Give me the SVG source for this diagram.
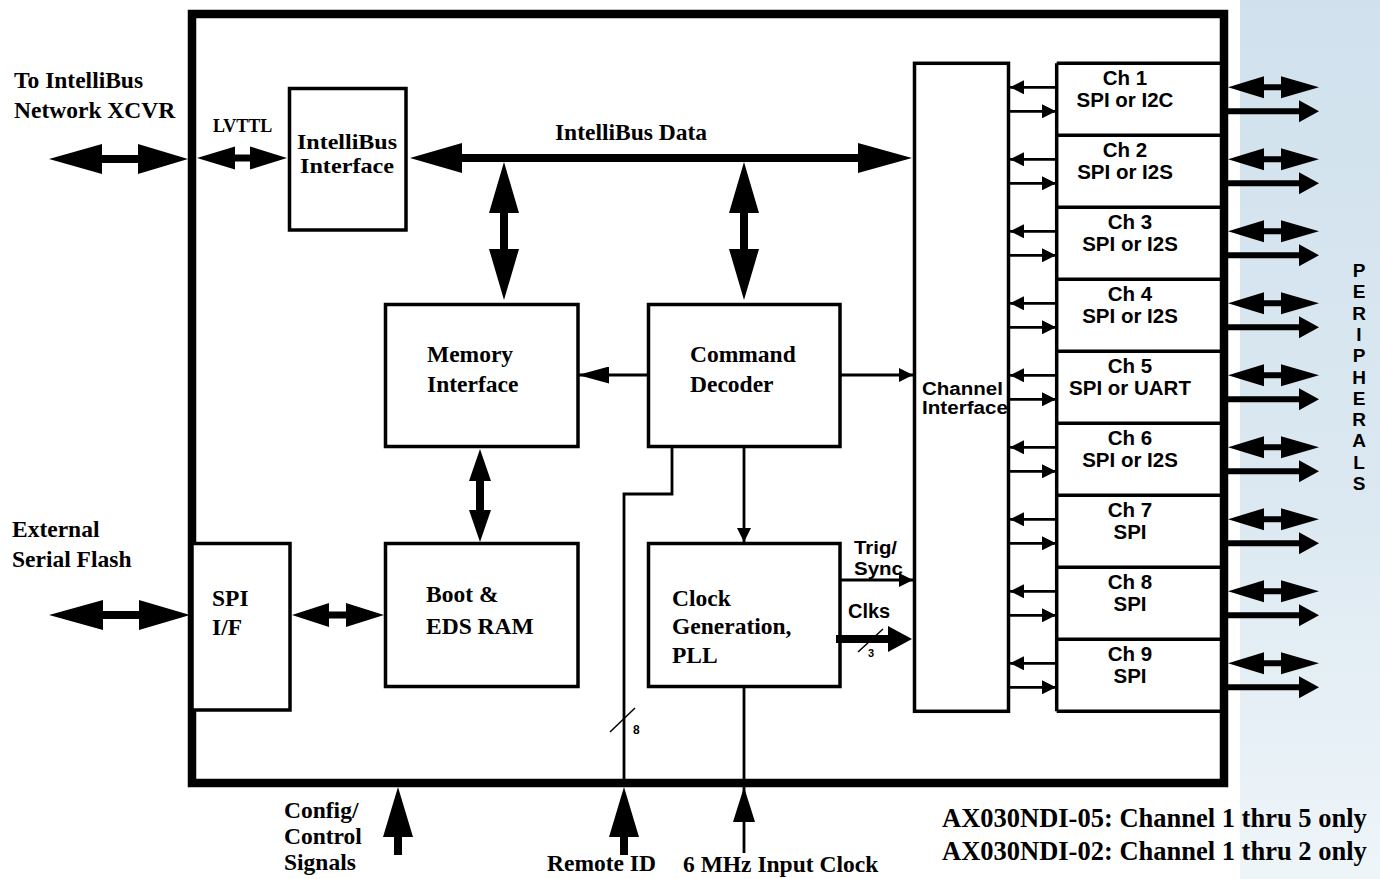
<svg xmlns="http://www.w3.org/2000/svg" xmlns:xlink="http://www.w3.org/1999/xlink" width="1380" height="879" viewBox="0 0 1380 879">
<defs>
<linearGradient id="panelGrad" x1="0" y1="0" x2="0" y2="1">
<stop offset="0" stop-color="#d0e1ed"/>
<stop offset="0.55" stop-color="#dbe8f1"/>
<stop offset="1" stop-color="#eef5f9"/>
</linearGradient>
<marker id="ah" markerUnits="userSpaceOnUse" markerWidth="14" markerHeight="14" refX="14" refY="7" orient="auto">
<path d="M0,0 L14,7 L0,14 z" fill="#000"/>
</marker>
<marker id="ahL" markerUnits="userSpaceOnUse" markerWidth="31" markerHeight="17" refX="31" refY="8.5" orient="auto">
<path d="M0,0 L31,8.5 L0,17 z" fill="#000"/>
</marker>
<polygon id="pdbl" points="0,0 36,-11 36,-3 53,-3 53,-11 91,0 53,11 53,3 36,3 36,11"/>
<polygon id="psgl" points="0,-3 71,-3 71,-11 91,0 71,11 71,3 0,3"/>
</defs>
<style>
.box{fill:#fff;stroke:#000;stroke-width:3.5}
.ln{fill:none;stroke:#000;stroke-width:2.8}
.thin{fill:none;stroke:#000;stroke-width:1.5}
.fill{fill:#000;stroke:none}
.serif{font-family:"Liberation Serif","Times New Roman",serif;font-weight:bold;font-size:23.5px;fill:#000}
.sans{font-family:"Liberation Sans",Arial,sans-serif;font-weight:bold;font-size:20.5px;fill:#000}
.mid{text-anchor:middle}
</style>
<rect x="0" y="0" width="1380" height="879" fill="#fff"/>
<rect id="peripherals-panel" x="1240" y="0" width="140" height="879" fill="url(#panelGrad)"/>

<g id="chip">
<rect x="192" y="14" width="1032" height="769" fill="none" stroke="#000" stroke-width="8.5"/>
</g>

<g id="intellibus-interface">
<rect class="box" x="289.5" y="88.5" width="116.5" height="141.5"/>
<text class="serif mid" x="347" y="149" style="font-size:21.5px" textLength="100" lengthAdjust="spacingAndGlyphs">IntelliBus</text>
<text class="serif mid" x="347" y="173" style="font-size:21.5px" textLength="94" lengthAdjust="spacingAndGlyphs">Interface</text>
</g>

<g id="memory-interface">
<rect class="box" x="385.5" y="304.5" width="192.5" height="142"/>
<text class="serif" x="427" y="362">Memory</text>
<text class="serif" x="427" y="392">Interface</text>
</g>

<g id="command-decoder">
<rect class="box" x="648.5" y="304.5" width="191.5" height="142"/>
<text class="serif" x="690" y="362">Command</text>
<text class="serif" x="690" y="392">Decoder</text>
</g>

<g id="boot-eds-ram">
<rect class="box" x="385.5" y="543.5" width="192.5" height="143"/>
<text class="serif" x="426" y="602">Boot &amp;</text>
<text class="serif" x="426" y="634">EDS RAM</text>
</g>

<g id="clock-generation">
<rect class="box" x="648.5" y="543.5" width="191.5" height="143"/>
<text class="serif" x="672" y="606">Clock</text>
<text class="serif" x="672" y="634">Generation,</text>
<text class="serif" x="672" y="663">PLL</text>
</g>

<g id="spi-if">
<rect class="box" x="192" y="543.5" width="98" height="166.5"/>
<text class="serif" x="212" y="606">SPI</text>
<text class="serif" x="212" y="635">I/F</text>
</g>

<g id="channel-interface">
<rect class="box" x="914.5" y="63.3" width="94" height="648"/>
<text class="sans" x="922" y="395" textLength="81" lengthAdjust="spacingAndGlyphs" style="font-size:18px">Channel</text>
<text class="sans" x="922" y="414" textLength="86" lengthAdjust="spacingAndGlyphs" style="font-size:18px">Interface</text>
</g>

<g id="channels">
<path class="box" d="M1056.7,63.3 V711.3 M1056.7,63.3 H1222 M1056.7,135.3 H1222 M1056.7,207.3 H1222 M1056.7,279.3 H1222 M1056.7,351.3 H1222 M1056.7,423.3 H1222 M1056.7,495.3 H1222 M1056.7,567.3 H1222 M1056.7,639.3 H1222 M1056.7,711.3 H1222" fill="none"/>
</g>
<g id="ch1"><text class="sans mid" x="1125" y="85.3">Ch 1</text><text class="sans mid" x="1125" y="106.8">SPI or I2C</text></g>
<g id="ch2"><text class="sans mid" x="1125" y="157.3">Ch 2</text><text class="sans mid" x="1125" y="178.8">SPI or I2S</text></g>
<g id="ch3"><text class="sans mid" x="1130" y="229.3">Ch 3</text><text class="sans mid" x="1130" y="250.8">SPI or I2S</text></g>
<g id="ch4"><text class="sans mid" x="1130" y="301.3">Ch 4</text><text class="sans mid" x="1130" y="322.8">SPI or I2S</text></g>
<g id="ch5"><text class="sans mid" x="1130" y="373.3">Ch 5</text><text class="sans mid" x="1130" y="394.8">SPI or UART</text></g>
<g id="ch6"><text class="sans mid" x="1130" y="445.3">Ch 6</text><text class="sans mid" x="1130" y="466.8">SPI or I2S</text></g>
<g id="ch7"><text class="sans mid" x="1130" y="517.3">Ch 7</text><text class="sans mid" x="1130" y="538.8">SPI</text></g>
<g id="ch8"><text class="sans mid" x="1130" y="589.3">Ch 8</text><text class="sans mid" x="1130" y="610.8">SPI</text></g>
<g id="ch9"><text class="sans mid" x="1130" y="661.3">Ch 9</text><text class="sans mid" x="1130" y="682.8">SPI</text></g>

<g id="connectors">
<polygon class="fill" points="49,159 102,144 102,155 138,155 138,144 188,159 138,174 138,163 102,163 102,174"/>
<polygon class="fill" points="197,158 235,146.5 235,154.5 250,154.5 250,146.5 287,158 250,169.5 250,161.5 235,161.5 235,169.5"/>
<polygon class="fill" points="410,158 462,143 462,154 858,154 858,143 912,158 858,173 858,162 462,162 462,173"/>
<polygon class="fill" points="504,162 519,213 508,213 508,249 519,249 504,300 489,249 500,249 500,213 489,213"/>
<polygon class="fill" points="744,162 759,213 748,213 748,249 759,249 744,300 729,249 740,249 740,213 729,213"/>
<polygon class="fill" points="480,449 491,481 484,481 484,510 491,510 480,542 469,510 476,510 476,481 469,481"/>
<polygon class="fill" points="49,615 103,600 103,611 139,611 139,600 190,615 139,630 139,619 103,619 103,630"/>
<polygon class="fill" points="292,615 329,603 329,611.5 346,611.5 346,603 384,615 346,627 346,618.5 329,618.5 329,627"/>
<line class="ln" x1="648" y1="375" x2="578" y2="375" marker-end="url(#ahL)"/>
<line class="ln" x1="840" y1="375" x2="913" y2="375" marker-end="url(#ah)"/>
<line class="ln" x1="744" y1="448" x2="744" y2="542" marker-end="url(#ah)"/>
<line class="ln" x1="840" y1="580" x2="913" y2="580" marker-end="url(#ah)"/>
<polygon class="fill" points="836,635 888,635 888,626 912,639 888,652 888,643 836,643"/>
<line class="thin" x1="858" y1="652" x2="883" y2="629"/>
<path class="ln" d="M672,448 V494 H624 V787"/>
<line class="thin" x1="610" y1="732" x2="635" y2="708"/>
<polygon class="fill" points="624,787 639,837 628,837 628,855 620,855 620,837 609,837"/>
<polygon class="fill" points="398,787 413,837 402,837 402,855 394,855 394,837 383,837"/>
<line class="ln" x1="744" y1="688" x2="744" y2="853"/>
<polygon class="fill" points="744,787 755,822 733,822"/>
<g class="ln">
<line x1="1056" y1="87.3" x2="1010" y2="87.3" marker-end="url(#ah)"/><line x1="1008" y1="111.3" x2="1056" y2="111.3" marker-end="url(#ah)"/>
<line x1="1056" y1="159.3" x2="1010" y2="159.3" marker-end="url(#ah)"/><line x1="1008" y1="183.3" x2="1056" y2="183.3" marker-end="url(#ah)"/>
<line x1="1056" y1="231.3" x2="1010" y2="231.3" marker-end="url(#ah)"/><line x1="1008" y1="255.3" x2="1056" y2="255.3" marker-end="url(#ah)"/>
<line x1="1056" y1="303.3" x2="1010" y2="303.3" marker-end="url(#ah)"/><line x1="1008" y1="327.3" x2="1056" y2="327.3" marker-end="url(#ah)"/>
<line x1="1056" y1="375.3" x2="1010" y2="375.3" marker-end="url(#ah)"/><line x1="1008" y1="399.3" x2="1056" y2="399.3" marker-end="url(#ah)"/>
<line x1="1056" y1="447.3" x2="1010" y2="447.3" marker-end="url(#ah)"/><line x1="1008" y1="471.3" x2="1056" y2="471.3" marker-end="url(#ah)"/>
<line x1="1056" y1="519.3" x2="1010" y2="519.3" marker-end="url(#ah)"/><line x1="1008" y1="543.3" x2="1056" y2="543.3" marker-end="url(#ah)"/>
<line x1="1056" y1="591.3" x2="1010" y2="591.3" marker-end="url(#ah)"/><line x1="1008" y1="615.3" x2="1056" y2="615.3" marker-end="url(#ah)"/>
<line x1="1056" y1="663.3" x2="1010" y2="663.3" marker-end="url(#ah)"/><line x1="1008" y1="687.3" x2="1056" y2="687.3" marker-end="url(#ah)"/>
</g>
<g class="fill">
<use xlink:href="#pdbl" href="#pdbl" x="1228" y="87.3"/><use xlink:href="#psgl" href="#psgl" x="1228" y="111.3"/>
<use xlink:href="#pdbl" href="#pdbl" x="1228" y="159.3"/><use xlink:href="#psgl" href="#psgl" x="1228" y="183.3"/>
<use xlink:href="#pdbl" href="#pdbl" x="1228" y="231.3"/><use xlink:href="#psgl" href="#psgl" x="1228" y="255.3"/>
<use xlink:href="#pdbl" href="#pdbl" x="1228" y="303.3"/><use xlink:href="#psgl" href="#psgl" x="1228" y="327.3"/>
<use xlink:href="#pdbl" href="#pdbl" x="1228" y="375.3"/><use xlink:href="#psgl" href="#psgl" x="1228" y="399.3"/>
<use xlink:href="#pdbl" href="#pdbl" x="1228" y="447.3"/><use xlink:href="#psgl" href="#psgl" x="1228" y="471.3"/>
<use xlink:href="#pdbl" href="#pdbl" x="1228" y="519.3"/><use xlink:href="#psgl" href="#psgl" x="1228" y="543.3"/>
<use xlink:href="#pdbl" href="#pdbl" x="1228" y="591.3"/><use xlink:href="#psgl" href="#psgl" x="1228" y="615.3"/>
<use xlink:href="#pdbl" href="#pdbl" x="1228" y="663.3"/><use xlink:href="#psgl" href="#psgl" x="1228" y="687.3"/>
</g>
</g>

<g id="labels">
<text class="serif" x="14" y="88">To IntelliBus</text>
<text class="serif" x="14" y="118">Network XCVR</text>
<text class="serif" x="213" y="132" style="font-size:18px">LVTTL</text>
<text class="serif mid" x="631" y="140">IntelliBus Data</text>
<text class="serif" x="12" y="537">External</text>
<text class="serif" x="12" y="567">Serial Flash</text>
<text class="sans" x="854" y="554" style="font-size:18px" textLength="43" lengthAdjust="spacingAndGlyphs">Trig/</text>
<text class="sans" x="854" y="575" style="font-size:18px" textLength="49" lengthAdjust="spacingAndGlyphs">Sync</text>
<text class="sans" x="848" y="618" style="font-size:20px">Clks</text>
<text class="sans" x="868" y="657" style="font-size:11px">3</text>
<text class="sans" x="633" y="734" style="font-size:12px">8</text>
<text class="serif" x="284" y="818">Config/</text>
<text class="serif" x="284" y="844">Control</text>
<text class="serif" x="284" y="870">Signals</text>
<text class="serif" x="547" y="871">Remote ID</text>
<text class="serif" x="683" y="872">6 MHz Input Clock</text>
<text class="serif" x="942" y="827" style="font-size:26.5px">AX030NDI-05: Channel 1 thru 5 only</text>
<text class="serif" x="942" y="860" style="font-size:26.5px">AX030NDI-02: Channel 1 thru 2 only</text>
<text class="sans mid" style="font-size:19px">
<tspan x="1359" y="277">P</tspan><tspan x="1359" y="298.3">E</tspan><tspan x="1359" y="319.6">R</tspan><tspan x="1359" y="340.9">I</tspan><tspan x="1359" y="362.2">P</tspan><tspan x="1359" y="383.5">H</tspan><tspan x="1359" y="404.8">E</tspan><tspan x="1359" y="426.1">R</tspan><tspan x="1359" y="447.4">A</tspan><tspan x="1359" y="468.7">L</tspan><tspan x="1359" y="490">S</tspan>
</text>
</g>
</svg>
